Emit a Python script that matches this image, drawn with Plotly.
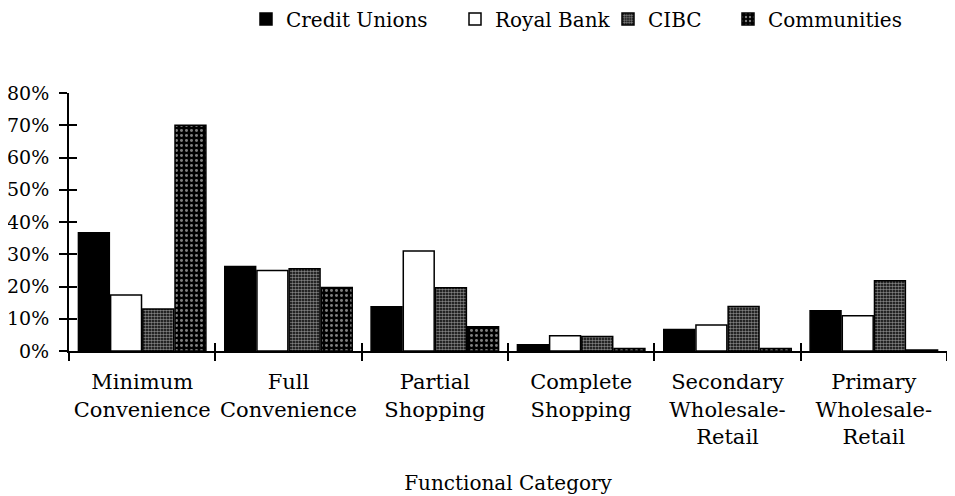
import plotly.graph_objects as go

categories = ["Minimum<br>Convenience", "Full<br>Convenience", "Partial<br>Shopping",
              "Complete<br>Shopping", "Secondary<br>Wholesale-<br>Retail", "Primary<br>Wholesale-<br>Retail"]
credit_unions = [36.7, 26.2, 13.7, 1.9, 6.7, 12.5]
royal_bank = [17.4, 25.0, 31.0, 4.7, 8.1, 10.9]
cibc = [13.0, 25.5, 19.6, 4.5, 13.8, 21.8]
communities = [70.0, 19.7, 7.5, 0.8, 0.8, 0.3]
y_ticks = [0, 10, 20, 30, 40, 50, 60, 70, 80]
y_tick_labels = [f"{v}%" for v in y_ticks]

FONT = "DejaVu Serif"
W, H = 947, 488  # page body has an 8px margin
fig = go.Figure()

series = [
    ("Credit Unions", credit_unions, dict(color="black"), "legend"),
    ("Royal Bank", royal_bank, dict(color="white"), "legend2"),
    ("CIBC", cibc, dict(color="black", pattern=dict(shape=".", bgcolor="black", fgcolor="white", size=3, solidity=0.55)), "legend3"),
    ("Communities", communities, dict(color="black", pattern=dict(shape=".", bgcolor="black", fgcolor="white", size=5, solidity=0.28)), "legend4"),
]
for name, vals, mk, lg in series:
    mk = dict(mk)
    mk["line"] = dict(color="black", width=1.5)
    fig.add_trace(go.Bar(x=categories, y=vals, name=name, marker=mk, legend=lg))

legend_x = [238, 447, 600, 720]
common = dict(orientation="h", xref="container", yref="container", y=1 - 11 / H,
              xanchor="left", yanchor="middle", font=dict(family=FONT, size=20, color="black"),
              bgcolor="rgba(0,0,0,0)", borderwidth=0)
fig.update_layout(
    legend=dict(x=legend_x[0] / W, **common),
    legend2=dict(x=legend_x[1] / W, **common),
    legend3=dict(x=legend_x[2] / W, **common),
    legend4=dict(x=legend_x[3] / W, **common),
)

fig.update_layout(
    width=W, height=H,
    margin=dict(l=61, r=8, t=85, b=145),
    paper_bgcolor="white", plot_bgcolor="white",
    barmode="group", bargap=0.12, bargroupgap=0.04,
    font=dict(family=FONT, size=20, color="black"),
    xaxis=dict(
        type="category", range=[-0.5, 5.5], showline=True, linecolor="black", linewidth=2,
        ticks="outside", tickson="boundaries", ticklen=8, tickwidth=2, tickcolor="black",
        showgrid=False, zeroline=False, tickangle=0, ticklabelstandoff=11, automargin=False,
        tickfont=dict(family=FONT, size=21),
        title=dict(text="Functional Category", font=dict(family=FONT, size=20), standoff=28),
    ),
    xaxis2=dict(
        overlaying="x", anchor="y", side="bottom", range=[-0.5, 5.5],
        tickmode="array", tickvals=[-0.5, 0.5, 1.5, 2.5, 3.5, 4.5, 5.5],
        ticks="inside", ticklen=8, tickwidth=2, tickcolor="black",
        showticklabels=False, showgrid=False, zeroline=False, showline=False, automargin=False,
    ),
    yaxis=dict(
        range=[0, 80], tickmode="array", tickvals=y_ticks, ticktext=y_tick_labels,
        showline=True, linecolor="black", linewidth=2, automargin=False,
        ticks="outside", ticklen=8, tickwidth=2, tickcolor="black",
        showgrid=False, zeroline=False, tickfont=dict(family=FONT, size=19),
        ticklabelstandoff=6,
    ),
    yaxis2=dict(
        overlaying="y", anchor="x", range=[0, 80], tickmode="array", tickvals=y_ticks,
        ticks="inside", ticklen=8, tickwidth=2, tickcolor="black",
        showticklabels=False, showgrid=False, zeroline=False, showline=False, automargin=False,
    ),
)
# invisible helper trace so overlay axes render
fig.add_trace(go.Scatter(x=[0], y=[0], xaxis="x2", yaxis="y2", mode="markers",
                         marker=dict(opacity=0), showlegend=False, hoverinfo="skip"))

fig.write_html("out.html")
